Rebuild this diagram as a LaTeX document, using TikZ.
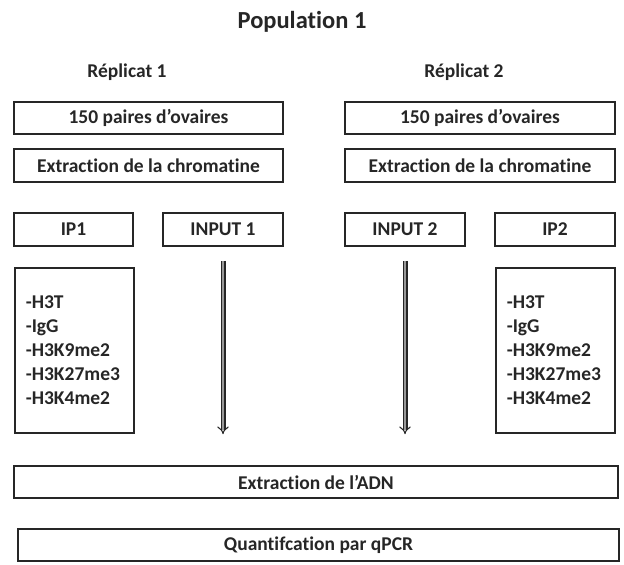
\documentclass[tikz,border=0pt]{standalone}
\usepackage{fontspec}
\setmainfont[Ligatures=NoCommon]{Carlito}
\usetikzlibrary{arrows.meta}

\tikzset{
  stepbox/.style={draw=black!85,line width=1.6pt,inner sep=0pt,
    font=\fontsize{19.5}{24}\selectfont\bfseries,text=black!85},
  listbox/.style={stepbox,align=left,anchor=north west,minimum width=119pt,
    minimum height=165pt,text width=97pt},
  bigarrow/.style={draw=black!85,line width=1.1pt,double=black!40,
    double distance=2.8pt,-{Implies[length=8pt,width=13pt]}},
  heading/.style={font=\fontsize{19.5}{24}\selectfont\bfseries,text=black!85,anchor=base}
}

\begin{document}
\begin{tikzpicture}[x=1pt,y=-1pt]
  \useasboundingbox (0,0) rectangle (624,565);
  \node[heading,font=\fontsize{24.5}{28}\selectfont\bfseries] (pop) at (302,28) {Population 1};
  \node[heading] (rep1) at (127,77) {Réplicat 1};
  \node[heading] (rep2) at (464,77) {Réplicat 2};

  % replicat 1
  \node[stepbox,minimum width=269pt,minimum height=32pt] (ov1) at (148.5,118) {150 paires d’ovaires};
  \node[stepbox,minimum width=269pt,minimum height=33pt] (chr1) at (148.5,165.5) {Extraction de la chromatine};
  \node[stepbox,minimum width=119pt,minimum height=33pt] (ip1) at (73.5,229.5) {IP1};
  \node[stepbox,minimum width=120pt,minimum height=33pt] (in1) at (223,229.5) {INPUT 1};
  \node[listbox,inner xsep=11pt] (ab1) at (14,267) {-H3T\\-IgG\\-H3K9me2\\-H3K27me3\\-H3K4me2};

  % replicat 2
  \node[stepbox,minimum width=270pt,minimum height=32pt] (ov2) at (480,118) {150 paires d’ovaires};
  \node[stepbox,minimum width=270pt,minimum height=33pt] (chr2) at (480,165.5) {Extraction de la chromatine};
  \node[stepbox,minimum width=120pt,minimum height=33pt] (in2) at (405,229.5) {INPUT 2};
  \node[stepbox,minimum width=120pt,minimum height=33pt] (ip2) at (555,229.5) {IP2};
  \node[listbox,inner xsep=10pt] (ab2) at (495,267) {-H3T\\-IgG\\-H3K9me2\\-H3K27me3\\-H3K4me2};

  % common steps
  \node[stepbox,minimum width=604pt,minimum height=32pt] (adn) at (316,482) {Extraction de l’ADN};
  \node[stepbox,minimum width=601pt,minimum height=32pt] (qpcr) at (318.5,545) {Quantifcation par qPCR};

  % inputs straight to DNA extraction
  \coordinate (s1) at ([yshift=-14pt]in1.south);
  \coordinate (e1) at ([yshift=31pt]adn.north -| in1);
  \coordinate (s2) at ([yshift=-14pt]in2.south);
  \coordinate (e2) at ([yshift=31pt]adn.north -| in2);
  \draw[bigarrow] (s1) -- (e1);
  \draw[bigarrow] (s2) -- (e2);
\end{tikzpicture}
\end{document}
